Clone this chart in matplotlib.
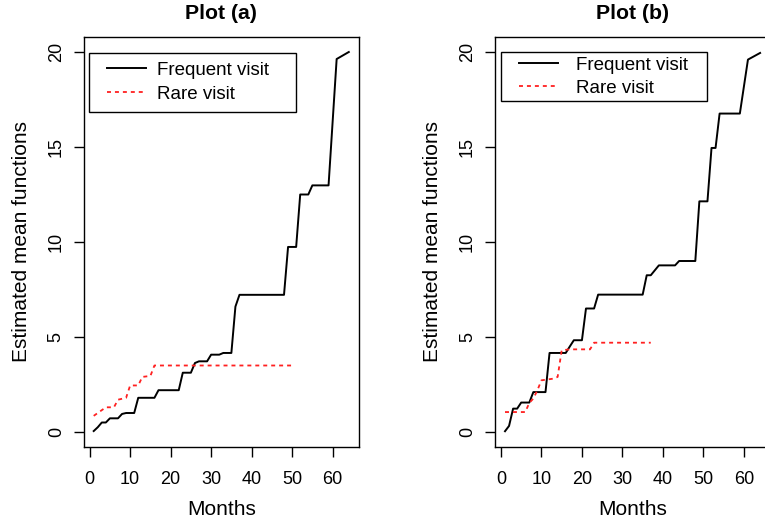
import numpy as np
import matplotlib
matplotlib.use("Agg")
import matplotlib.pyplot as plt
from matplotlib.patches import Rectangle
from matplotlib.lines import Line2D

plt.rcParams['font.family'] = ['Liberation Sans', 'DejaVu Sans']

# ---- data ----
freq_a_month = [1, 2, 3, 4, 5, 7, 8, 9, 11, 12, 16, 17, 22, 23, 25, 26, 27, 29,
                30, 32, 33, 35, 36, 37, 48, 49, 51, 52, 54, 55, 59, 61, 64]
freq_a_mean = [0.05, 0.25, 0.5, 0.5, 0.72, 0.72, 0.95, 1.0, 1.0, 1.8, 1.8, 2.2,
               2.2, 3.12, 3.12, 3.63, 3.72, 3.72, 4.07, 4.07, 4.16, 4.16, 6.6,
               7.22, 7.22, 9.74, 9.74, 12.5, 12.5, 12.98, 12.98, 19.63, 20.0]

rare_a_month = [1, 3, 4, 6, 7, 9, 10, 12, 13, 15, 16, 50]
rare_a_mean = [0.85, 1.15, 1.3, 1.3, 1.7, 1.8, 2.45, 2.45, 2.9, 2.95, 3.5, 3.5]

freq_b_month = [1, 2, 3, 4, 5, 7, 8, 11, 12, 16, 17, 18, 20, 21, 23, 24, 35, 36,
                37, 39, 43, 44, 48, 49, 51, 52, 53, 54, 59, 61, 64]
freq_b_mean = [0.04, 0.32, 1.23, 1.23, 1.55, 1.55, 2.1, 2.1, 4.16, 4.16, 4.5,
               4.83, 4.83, 6.5, 6.5, 7.23, 7.23, 8.25, 8.25, 8.77, 8.77, 9.0,
               9.0, 12.14, 12.14, 14.95, 14.95, 16.76, 16.76, 19.6, 19.95]

rare_b_month = [1, 6, 7, 8, 9, 10, 13, 14, 15, 17, 22, 23, 37]
rare_b_mean = [1.05, 1.05, 1.53, 1.76, 2.2, 2.72, 2.81, 2.9, 4.3, 4.35, 4.35,
               4.7, 4.7]

titles = ['Plot (a)', 'Plot (b)']
labels = ['Frequent visit', 'Rare visit']
xticks = [0, 10, 20, 30, 40, 50, 60]
yticks = [0, 5, 10, 15, 20]

W, H = 765, 522
fig = plt.figure(figsize=(W / 100, H / 100), dpi=100)


def px(x0, y0, w, h):
    # pixel box (top-left origin) -> figure fraction
    return [x0 / W, 1 - (y0 + h) / H, w / W, h / H]


ax_a = fig.add_axes(px(83.5, 36.8, 275.5, 410.4))
ax_b = fig.add_axes(px(494.8, 36.8, 275.5, 410.4))

panels = [
    (ax_a, freq_a_month, freq_a_mean, rare_a_month, rare_a_mean,
     (89, 53.3, 206.7, 59), (107.3, 82.2), 0.36, 0.58),
    (ax_b, freq_b_month, freq_b_mean, rare_b_month, rare_b_mean,
     (501, 52.3, 206.3, 48.4), (519.3, 76.7), 0.31, 0.95),
]

for i, (ax, fm, fv, rm, rv, box, anchor, lsp, htp) in enumerate(panels):
    ax.plot(fm, fv, color='black', lw=1.4)
    l2, = ax.plot(rm, rv, color='#ff2020', lw=1.3)
    l2.set_dashes((2.2, 2.2))

    ax.set_xlim(-1.52, 66.52)
    ax.set_ylim(-0.8, 20.8)
    ax.set_xticks(xticks)
    ax.set_yticks(yticks)
    ax.tick_params(direction='out', length=7, width=1, labelsize=13,
                   colors='black')
    ax.tick_params(axis='x', pad=10)
    ax.tick_params(axis='y', pad=6.5)
    for t in ax.get_yticklabels():
        t.set_rotation(90)
        t.set_va('center')
    for s in ax.spines.values():
        s.set_linewidth(1.0)

    ax.set_title(titles[i], fontsize=15.3, fontweight='bold', pad=12.5)
    ax.set_xlabel('Months', fontsize=15, labelpad=9)
    ax.set_ylabel('Estimated mean functions', fontsize=15, labelpad=12)

    # legend box drawn as in the original
    fig.patches.append(Rectangle((px(*box)[0], px(*box)[1]), px(*box)[2],
                                 px(*box)[3], transform=fig.transFigure,
                                 fill=False, edgecolor='black', lw=1.0))
    h1 = Line2D([], [], color='black', lw=1.4)
    h2 = Line2D([], [], color='#ff2020', lw=1.3, dashes=(2.2, 2.2))
    ax.legend([h1, h2], labels, loc='center left',
              bbox_to_anchor=(anchor[0] / W, 1 - anchor[1] / H),
              bbox_transform=fig.transFigure, frameon=False, borderpad=0,
              borderaxespad=0, fontsize=13.5, handlelength=2.05,
              handletextpad=htp, labelspacing=lsp)

fig.savefig('out.png', dpi=100)
